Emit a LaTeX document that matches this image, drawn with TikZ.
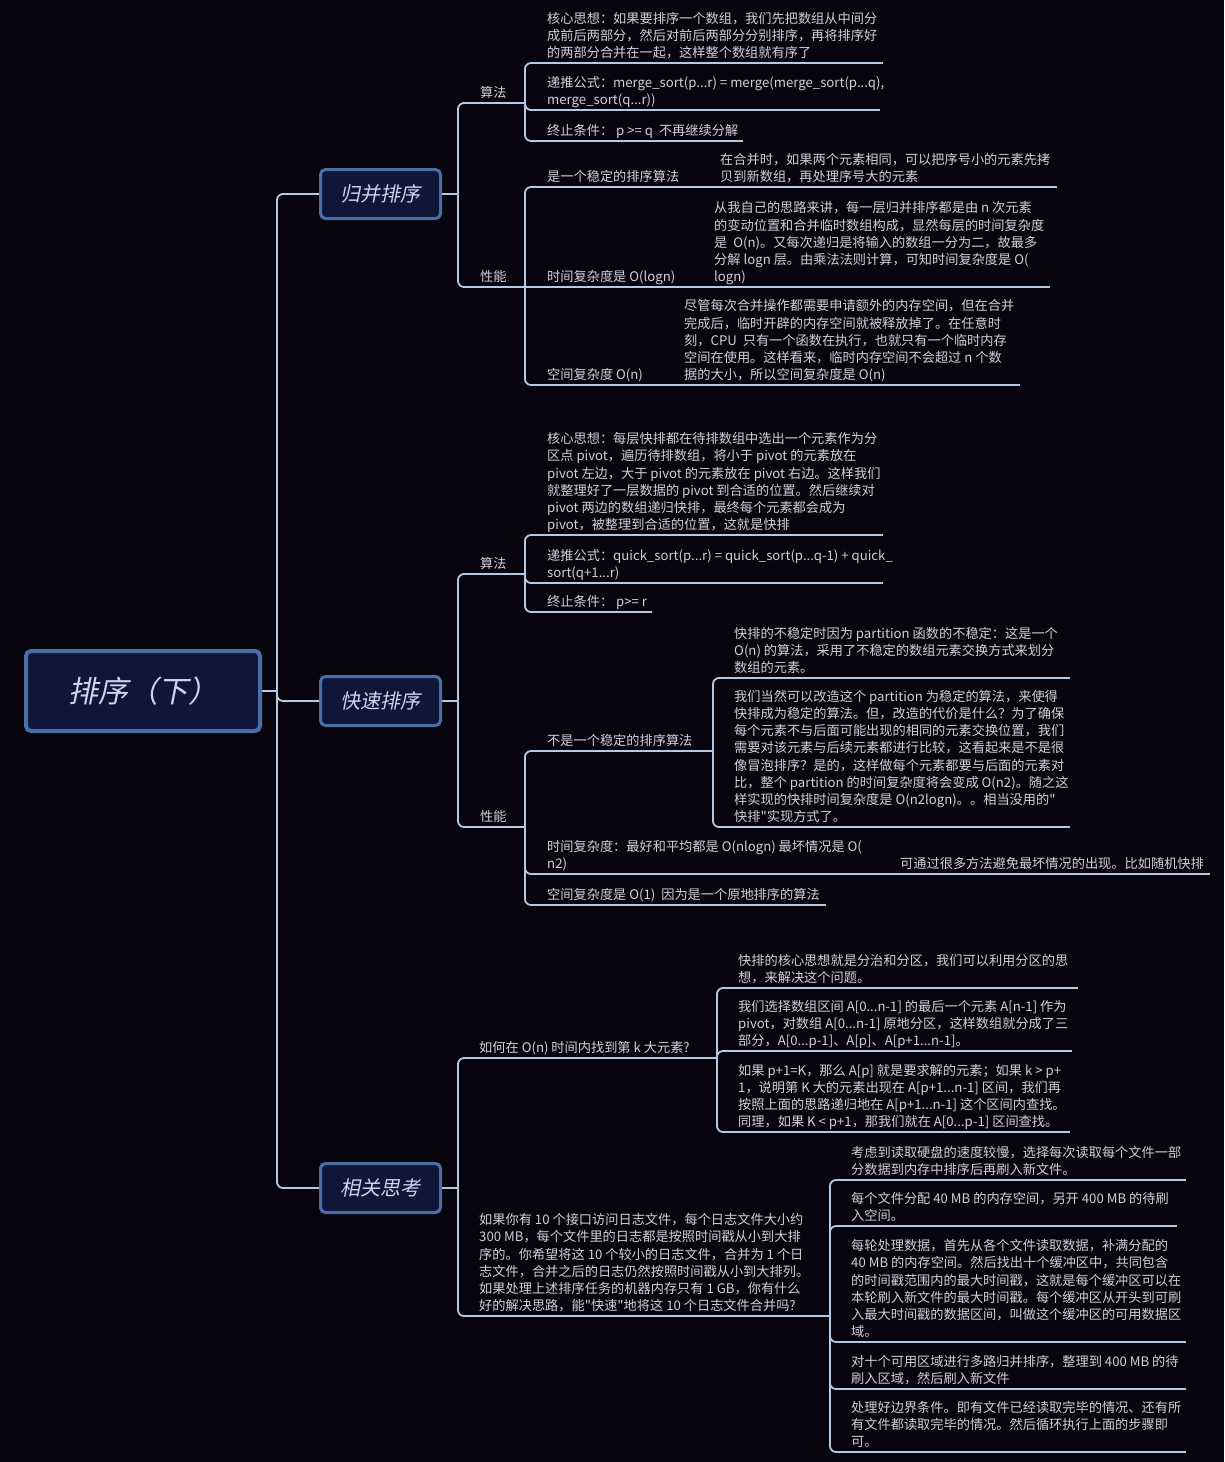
\documentclass[tikz,border=0pt]{standalone}
\usepackage{fontspec}
\setmainfont{Noto Sans CJK SC}
\newfontfamily\slfont[FakeSlant=0.2]{Noto Sans CJK SC}
\newfontfamily\qfont{Noto Sans CJK SC}
\newcommand\dq{{\qfont"}}
\usetikzlibrary{calc}
\definecolor{bg}{HTML}{08050E}
\definecolor{lnc}{HTML}{B5C8E6}
\definecolor{txc}{HTML}{D0D0D6}
\definecolor{boxfill}{HTML}{10163A}
\definecolor{boxline}{HTML}{4A6EA6}
\definecolor{boxtext}{HTML}{C9D7EE}
\tikzset{
 conn/.style={draw=lnc, line width=1.8pt, rounded corners=6pt},
 uline/.style={draw=lnc, line width=1.8pt},
 txt/.style={text=txc, font=\fontsize{13.2}{17.2}\selectfont, align=left, inner sep=0pt, anchor=south west, execute at end node=\strut},
 rootbox/.style={draw=boxline, fill=boxfill, line width=4pt, rounded corners=5pt, minimum width=234pt, minimum height=80pt, text=boxtext, font=\slfont\fontsize{30}{36}\selectfont},
 subbox/.style={draw=boxline, fill=boxfill, line width=3pt, rounded corners=5pt, minimum width=120pt, minimum height=49pt, text=boxtext, font=\slfont\fontsize{20}{24}\selectfont},
}
\newcommand\mmtopic[6]{%
  \node[txt] (#1) at (#5,#4) {#6};
  \coordinate (#1-l) at (#2,#4);
  \coordinate (#1-r) at (#3,#4);
  \draw[uline] (#1-l) -- (#1-r);
}
\begin{document}
\begin{tikzpicture}[x=1pt,y=-1pt]
\fill[bg] (0,0) rectangle (1224,1462);
\useasboundingbox (0,0) rectangle (1224,1462);

% main boxes
\node[rootbox] (root) at (143,691) {排序（下）};
\node[subbox] (m) at (380.5,194) {归并排序};
\node[subbox] (q) at (380.5,701) {快速排序};
\node[subbox] (t) at (380.5,1188) {相关思考};
\coordinate (j0) at (277,691);
\draw[conn] (root.east) -- (j0);
\draw[conn] (j0) |- (m.west);
\draw[conn] (j0) |- (q.west);
\draw[conn] (j0) |- (t.west);

% ---------- merge sort
\coordinate (j1) at (458,194);
\draw[conn] (m.east) -- (j1);
\mmtopic{mA}{464}{525}{103}{480}{算法}
\mmtopic{mP}{464}{525}{287}{480}{性能}
\draw[conn] (j1) |- (mA-l);
\draw[conn] (j1) |- (mP-l);

\mmtopic{mA1}{531}{883}{63}{547}{核心思想：如果要排序一个数组，我们先把数组从中间分\\成前后两部分，然后对前后两部分分别排序，再将排序好\\的两部分合并在一起，这样整个数组就有序了}
\mmtopic{mA2}{531}{880}{110}{547}{递推公式：merge\_sort(p...r) = merge(merge\_sort(p...q),\\merge\_sort(q...r))}
\mmtopic{mA3}{531}{743}{141}{547}{终止条件：~p >= q~ 不再继续分解}
\draw[conn] (mA-r) |- (mA1-l);
\draw[conn] (mA-r) |- (mA2-l);
\draw[conn] (mA-r) |- (mA3-l);

\mmtopic{mP1}{531}{700}{187}{547}{是一个稳定的排序算法}
\mmtopic{mP1a}{706}{1057}{187}{720}{在合并时，如果两个元素相同，可以把序号小的元素先拷\\贝到新数组，再处理序号大的元素}
\draw[conn] (mP1-r) -- (mP1a-l);
\mmtopic{mP2}{531}{694}{287}{547}{时间复杂度是 O(logn)}
\mmtopic{mP2a}{700}{1050}{287}{714}{从我自己的思路来讲，每一层归并排序都是由 n 次元素\\的变动位置和合并临时数组构成，显然每层的时间复杂度\\是~ O(n)。又每次递归是将输入的数组一分为二，故最多\\分解 logn 层。由乘法法则计算，可知时间复杂度是 O(\\logn)}
\draw[conn] (mP2-r) -- (mP2a-l);
\mmtopic{mP3}{531}{664}{385}{547}{空间复杂度 O(n)}
\mmtopic{mP3a}{670}{1020}{385}{684}{尽管每次合并操作都需要申请额外的内存空间，但在合并\\完成后，临时开辟的内存空间就被释放掉了。在任意时\\刻，CPU~ 只有一个函数在执行，也就只有一个临时内存\\空间在使用。这样看来，临时内存空间不会超过 n 个数\\据的大小，所以空间复杂度是 O(n)}
\draw[conn] (mP3-r) -- (mP3a-l);
\draw[conn] (mP-r) |- (mP1-l);
\draw[conn] (mP-r) -- (mP2-l);
\draw[conn] (mP-r) |- (mP3-l);

% ---------- quick sort
\coordinate (j2) at (458,701);
\draw[conn] (q.east) -- (j2);
\mmtopic{qA}{464}{525}{574}{480}{算法}
\mmtopic{qP}{464}{525}{827}{480}{性能}
\draw[conn] (j2) |- (qA-l);
\draw[conn] (j2) |- (qP-l);

\mmtopic{qA1}{531}{883}{535}{547}{核心思想：每层快排都在待排数组中选出一个元素作为分\\区点 pivot，遍历待排数组，将小于 pivot 的元素放在\\pivot 左边，大于 pivot 的元素放在 pivot 右边。这样我们\\就整理好了一层数据的 pivot 到合适的位置。然后继续对\\pivot 两边的数组递归快排，最终每个元素都会成为\\pivot，被整理到合适的位置，这就是快排}
\mmtopic{qA2}{531}{883}{583}{547}{递推公式：quick\_sort(p...r) = quick\_sort(p...q-1) + quick\_\\sort(q+1...r)}
\mmtopic{qA3}{531}{652}{612}{547}{终止条件：~p>= r}
\draw[conn] (qA-r) |- (qA1-l);
\draw[conn] (qA-r) |- (qA2-l);
\draw[conn] (qA-r) |- (qA3-l);

\mmtopic{qP1}{531}{713}{751}{547}{不是一个稳定的排序算法}
\mmtopic{qP1a}{719}{1070}{678}{734}{快排的不稳定时因为 partition 函数的不稳定：这是一个\\O(n) 的算法，采用了不稳定的数组元素交换方式来划分\\数组的元素。}
\mmtopic{qP1b}{719}{1070}{827}{734}{我们当然可以改造这个 partition 为稳定的算法，来使得\\快排成为稳定的算法。但，改造的代价是什么？为了确保\\每个元素不与后面可能出现的相同的元素交换位置，我们\\需要对该元素与后续元素都进行比较，这看起来是不是很\\像冒泡排序？是的，这样做每个元素都要与后面的元素对\\比，整个 partition 的时间复杂度将会变成 O(n2)。随之这\\样实现的快排时间复杂度是 O(n2logn)。。相当没用的\dq\\快排\dq 实现方式了。}
\draw[conn] (qP1-r) |- (qP1a-l);
\draw[conn] (qP1-r) |- (qP1b-l);
\mmtopic{qP2}{531}{880}{874}{547}{时间复杂度：最好和平均都是 O(nlogn) 最坏情况是 O(\\n2)}
\mmtopic{qP2a}{886}{1210}{874}{900}{可通过很多方法避免最坏情况的出现。比如随机快排}
\draw[conn] (qP2-r) -- (qP2a-l);
\mmtopic{qP3}{531}{826}{905}{547}{空间复杂度是 O(1)~ 因为是一个原地排序的算法}
\draw[conn] (qP-r) |- (qP1-l);
\draw[conn] (qP-r) |- (qP2-l);
\draw[conn] (qP-r) |- (qP3-l);

% ---------- related thinking
\coordinate (j3) at (458,1188);
\draw[conn] (t.east) -- (j3);
\mmtopic{tK}{464}{717}{1058}{479}{如何在 O(n) 时间内找到第 k 大元素?}
\mmtopic{tL}{464}{830}{1316}{479}{如果你有 10 个接口访问日志文件，每个日志文件大小约\\300 MB，每个文件里的日志都是按照时间戳从小到大排\\序的。你希望将这 10 个较小的日志文件，合并为 1 个日\\志文件，合并之后的日志仍然按照时间戳从小到大排列。\\如果处理上述排序任务的机器内存只有 1 GB，你有什么\\好的解决思路，能\dq 快速\dq 地将这 10 个日志文件合并吗?}
\draw[conn] (j3) |- (tK-l);
\draw[conn] (j3) |- (tL-l);

\mmtopic{tK1}{723}{1078}{988}{738}{快排的核心思想就是分治和分区，我们可以利用分区的思\\想，来解决这个问题。}
\mmtopic{tK2}{723}{1072}{1051}{738}{我们选择数组区间 A[0...n-1] 的最后一个元素 A[n-1] 作为\\pivot，对数组 A[0...n-1] 原地分区，这样数组就分成了三\\部分，A[0...p-1]、A[p]、A[p+1...n-1]。}
\mmtopic{tK3}{723}{1070}{1132}{738}{如果 p+1=K，那么 A[p] 就是要求解的元素；如果 k > p+\\1，说明第 K 大的元素出现在 A[p+1...n-1] 区间，我们再\\按照上面的思路递归地在 A[p+1...n-1] 这个区间内查找。\\同理，如果 K < p+1，那我们就在 A[0...p-1] 区间查找。}
\draw[conn] (tK-r) |- (tK1-l);
\draw[conn] (tK-r) |- (tK2-l);
\draw[conn] (tK-r) |- (tK3-l);

\mmtopic{tL1}{836}{1186}{1180}{851}{考虑到读取硬盘的速度较慢，选择每次读取每个文件一部\\分数据到内存中排序后再刷入新文件。}
\mmtopic{tL2}{836}{1177}{1226}{851}{每个文件分配 40 MB 的内存空间，另开 400 MB 的待刷\\入空间。}
\mmtopic{tL3}{836}{1186}{1342}{851}{每轮处理数据，首先从各个文件读取数据，补满分配的\\40 MB 的内存空间。然后找出十个缓冲区中，共同包含\\的时间戳范围内的最大时间戳，这就是每个缓冲区可以在\\本轮刷入新文件的最大时间戳。每个缓冲区从开头到可刷\\入最大时间戳的数据区间，叫做这个缓冲区的可用数据区\\域。}
\mmtopic{tL4}{836}{1186}{1389}{851}{对十个可用区域进行多路归并排序，整理到 400 MB 的待\\刷入区域，然后刷入新文件}
\mmtopic{tL5}{836}{1186}{1452}{851}{处理好边界条件。即有文件已经读取完毕的情况、还有所\\有文件都读取完毕的情况。然后循环执行上面的步骤即\\可。}
\draw[conn] (tL-r) |- (tL1-l);
\draw[conn] (tL-r) |- (tL2-l);
\draw[conn] (tL-r) |- (tL3-l);
\draw[conn] (tL-r) |- (tL4-l);
\draw[conn] (tL-r) |- (tL5-l);
\end{tikzpicture}
\end{document}
